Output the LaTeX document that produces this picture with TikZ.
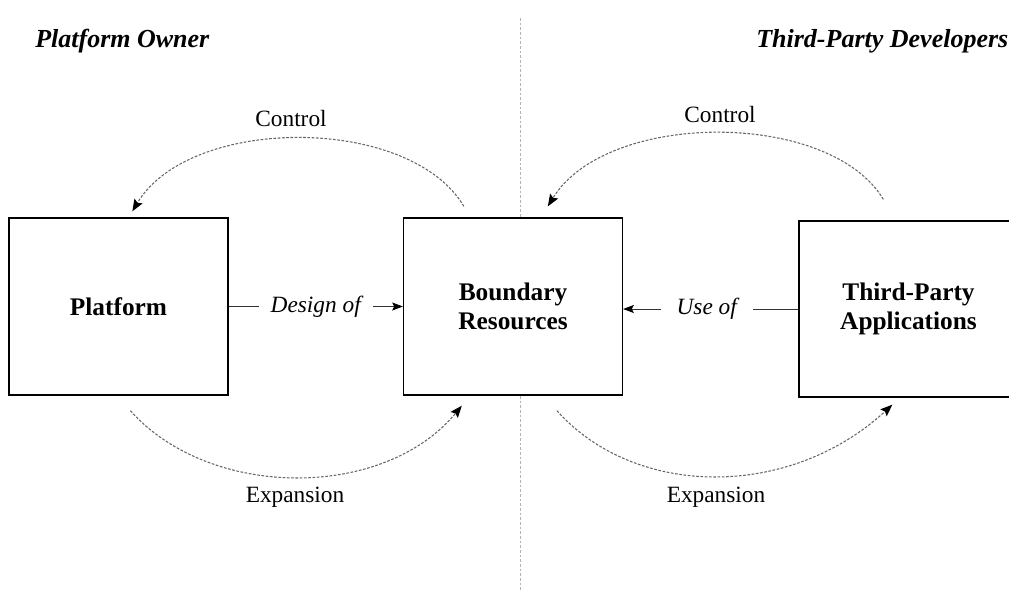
\documentclass[tikz,border=0pt]{standalone}
\usepackage{fontspec}
\setmainfont{Liberation Serif}
\usetikzlibrary{arrows.meta,calc}

\begin{document}
\begin{tikzpicture}[x=0.75pt,y=0.75pt,yscale=-1,xscale=1,
  block/.style={draw, fill=white, line width=1pt, minimum width=164.25pt, minimum height=132.75pt,
    align=center, font=\fontsize{19}{22}\selectfont\bfseries},
  lbl/.style={inner sep=0.75pt, font=\fontsize{17.5}{20}\selectfont},
  head/.style={anchor=west, inner sep=0pt, font=\fontsize{19.5}{22}\selectfont\bfseries\itshape},
  arc/.style={draw=black!60, line width=0.8pt, dash pattern=on 2pt off 1.2pt,
    -{Stealth[length=9pt,width=7pt,inset=1.5pt,color=black]}},
  link/.style={line width=0.6pt, draw=black!80, -{Stealth[length=8pt,width=6pt,inset=1.5pt,color=black]}}]
\useasboundingbox (0,0) rectangle (1009,592);
\clip (0,0) rectangle (1009,592);

%Separator
\draw[black!30, dash pattern=on 2pt off 1.5pt, line width=0.6pt] (520,18) -- (520,592);

%Boxes
\node[block] (plat) at (118.5,306.5) {Platform};
\node[block] (bound) at (513,306.5) {Boundary\\Resources};
\node[block, minimum height=132pt] (third) at (908.5,309) {Third-Party\\Applications};

%Straight Lines
\draw[link] (plat) -- node[fill=white, lbl, inner xsep=9pt] {\itshape Design of} (bound);
\draw[link] (third.west) -- node[fill=white, lbl, inner xsep=12pt, xshift=-3pt] {\itshape Use of} (third.west -| bound.east);

%Curves
\draw[arc] ($(bound.north west)+(61,-11)$) .. controls (410,115) and (190,115) .. ($(plat.north west)+(124,-6)$);
\draw[arc] ($(plat.south west)+(122,15)$) .. controls (210,500) and (384,500) .. ($(bound.south west)+(59,10)$);
\draw[arc] ($(third.north west)+(85,-21)$) .. controls (830,110) and (607,110) .. ($(bound.north west)+(145,-11)$);
\draw[arc] ($(bound.south west)+(154,15)$) .. controls (636,499) and (790,499) .. ($(third.south west)+(94,7)$);

% Text Node
\node[lbl] (ctrlA) at (291,119) {Control};
\node[lbl] (ctrlB) at (720,115) {Control};
\node[lbl] (expA) at (295,497) {Expansion};
\node[lbl] (expB) at (716,497) {Expansion};
\node[head] (own) at (35,41) {Platform Owner};
\node[head] (dev) at (756,41) {Third-Party Developers};

\end{tikzpicture}
\end{document}
